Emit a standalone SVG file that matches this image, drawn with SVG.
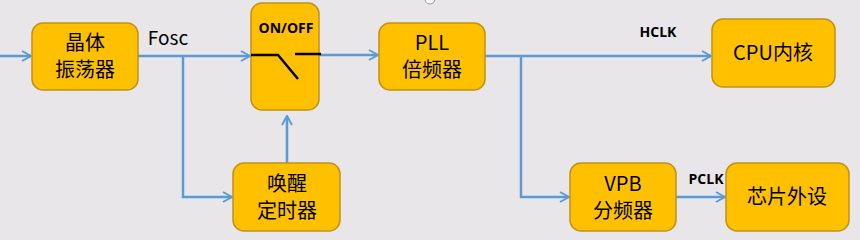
<svg xmlns="http://www.w3.org/2000/svg" width="860" height="240" viewBox="0 0 860 240">
<defs>
<style>
.box{fill:#FFC000;stroke:#C09218;stroke-width:1.5}
.ln{fill:none;stroke:#5B9BD5;stroke-width:2.5}
.t{font-family:"Noto Sans CJK SC","Microsoft YaHei",sans-serif;font-size:20px;fill:#000;text-anchor:middle}
.b{font-family:"Open Sans","DejaVu Sans",sans-serif;font-weight:bold;font-size:14px;fill:#000;text-anchor:middle}
.sw{fill:none;stroke:#000;stroke-width:2.5}
</style>
<marker id="arr" viewBox="0 0 12 12" refX="11" refY="6" markerWidth="12" markerHeight="12" markerUnits="userSpaceOnUse" orient="auto">
<path d="M2,1 L11,6 L2,11" fill="none" stroke="#5B9BD5" stroke-width="2"/>
</marker>
</defs>
<rect width="860" height="240" fill="#E8E6E8"/>
<circle cx="430" cy="-1" r="5" fill="#fff" stroke="#999" stroke-width="1"/>
<g id="connectors">
<path class="ln" d="M0,56 L31,56" marker-end="url(#arr)"/>
<path class="ln" d="M138,56 L250,56" marker-end="url(#arr)"/>
<path class="ln" d="M183,56 L183,197 L232,197" marker-end="url(#arr)"/>
<path class="ln" d="M287,163 L287,116" marker-end="url(#arr)"/>
<path class="ln" d="M319,55 L378,55" marker-end="url(#arr)"/>
<path class="ln" d="M485,56 L711,56" marker-end="url(#arr)"/>
<path class="ln" d="M521,56 L521,197 L569,197" marker-end="url(#arr)"/>
<path class="ln" d="M676,197 L725,197" marker-end="url(#arr)"/>
<text x="168" y="45" font-family="Noto Sans CJK SC, sans-serif" font-size="19" fill="#000" text-anchor="middle">Fosc</text>
<text x="658" y="37" class="b">HCLK</text>
<text x="706" y="184" class="b">PCLK</text>
</g>
<g id="osc">
<rect class="box" x="32" y="23" width="106" height="67" rx="11"/>
<text class="t" x="85" y="50">晶体</text>
<text class="t" x="85" y="77">振荡器</text>
</g>
<g id="switch">
<rect class="box" x="251" y="3" width="68" height="107" rx="11"/>
<text class="b" x="286" y="33">ON/OFF</text>
<path class="sw" d="M251,55 L278,55 L298,79"/>
<path class="sw" d="M295,54 L321,54"/>
</g>
<g id="wake">
<rect class="box" x="233" y="163" width="107" height="68" rx="11"/>
<text class="t" x="287" y="191">唤醒</text>
<text class="t" x="287" y="218">定时器</text>
</g>
<g id="pll">
<rect class="box" x="379" y="23" width="106" height="67" rx="11"/>
<text class="t" x="432" y="50">PLL</text>
<text class="t" x="432" y="77">倍频器</text>
</g>
<g id="cpu">
<rect class="box" x="712" y="19" width="123" height="68" rx="11"/>
<text class="t" x="773" y="60">CPU内核</text>
</g>
<g id="vpb">
<rect class="box" x="570" y="163" width="106" height="68" rx="11"/>
<text class="t" x="623" y="191">VPB</text>
<text class="t" x="623" y="218">分频器</text>
</g>
<g id="periph">
<rect class="box" x="726" y="163" width="123" height="68" rx="11"/>
<text class="t" x="787" y="204">芯片外设</text>
</g>
</svg>
